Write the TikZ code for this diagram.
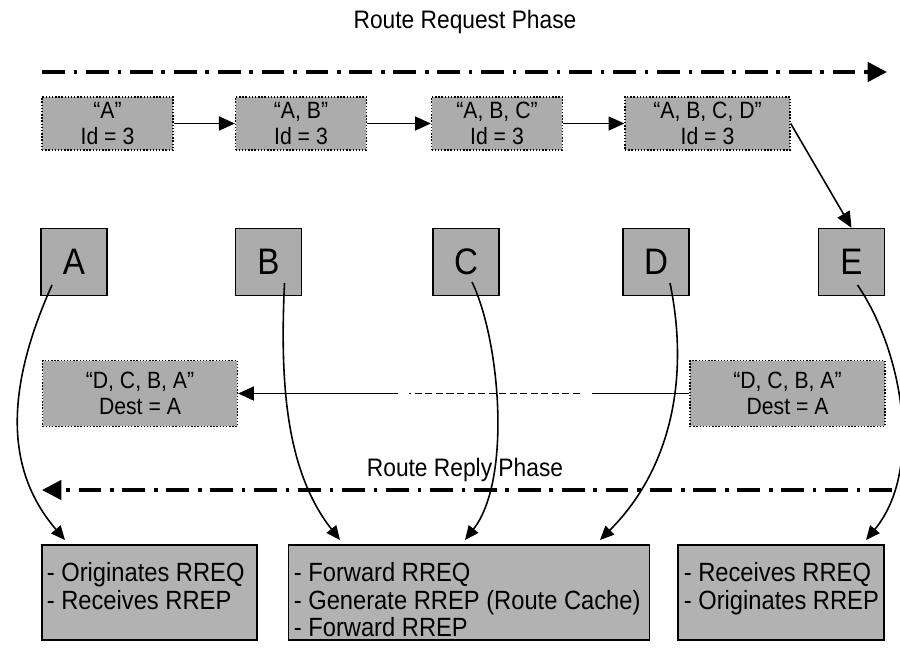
\documentclass[tikz,border=0pt]{standalone}
\usepackage{fontspec}
\setmainfont[FakeStretch=0.9]{Liberation Sans}
\usetikzlibrary{arrows.meta}
\tikzstyle{packet} = [rectangle, draw=black, densely dotted, line width=0.8pt,
minimum width=2.62cm, minimum height=1.06cm, inner sep=2pt,
align=center, fill=gray!65, font=\fontsize{13.4}{14.5}\selectfont]
\tikzstyle{host} = [rectangle, draw=black, line width=0.9pt, fill=gray!65,
minimum width=1.32cm, minimum height=1.34cm, inner sep=0pt,
font=\fontsize{21}{24}\selectfont]
\tikzstyle{role} = [rectangle, draw=black, line width=0.6pt, fill=gray!60,
minimum height=1.9cm, inner sep=0pt]
\tikzstyle{roletext} = [anchor=north west, align=left, inner sep=0pt,
font=\fontsize{15}{15.6}\selectfont]
\tikzstyle{phaselabel} = [font=\fontsize{14.4}{16}\selectfont]
\tikzstyle{phase} = [line width=2pt, dash pattern=on 13pt off 5pt on 2pt off 5pt,
-{Triangle[length=11pt,width=11pt]}]
\tikzstyle{hop} = [line width=0.9pt, -{Triangle[length=8pt,width=7pt]}]
\tikzstyle{arrow} = [line width=0.9pt, -{Triangle[length=9pt,width=8pt]}]

\begin{document}
\begin{tikzpicture}[x=0.02cm, y=-0.02cm]
\useasboundingbox (0,0) rectangle (900,659);

% Nodes
\node[phaselabel] (reqlabel) at (465,22) {Route Request Phase};
\coordinate (reqstart) at (42,72);
\coordinate (reqend) at (887,72);

\node[packet] (pktA) at (107.5,123.5) {“A”\\Id = 3};
\node[packet] (pktB) at (301,123.5) {“A, B”\\Id = 3};
\node[packet] (pktC) at (497,123.5) {“A, B, C”\\Id = 3};
\node[packet, minimum width=3.3cm] (pktD) at (707.5,123.5) {“A, B, C, D”\\Id = 3};

\node[host] (A) at (74,262) {A};
\node[host] (B) at (268.5,262) {B};
\node[host] (C) at (466,262) {C};
\node[host] (D) at (656,262) {D};
\node[host] (E) at (851.5,262) {E};

\node[packet, minimum width=3.9cm, minimum height=1.32cm] (backA) at (140,393.5) {“D, C, B, A”\\Dest = A};
\node[packet, minimum width=3.9cm, minimum height=1.32cm] (backE) at (787.5,393.5) {“D, C, B, A”\\Dest = A};
\coordinate (gapR) at (592,393.5);
\coordinate (gapL) at (580,393.5);
\coordinate (dashL) at (409,393.5);
\coordinate (solidL) at (398,393.5);

\node[phaselabel] (replabel) at (465,470) {Route Reply Phase};
\coordinate (repstart) at (892,490);
\coordinate (repend) at (42,490);

\coordinate (tipA) at (65,540);
\coordinate (tipB) at (340,540);
\coordinate (tipC) at (465,540);
\coordinate (tipD) at (600,540);
\coordinate (tipE) at (866,540);

\node[role, minimum width=4.3cm] (origbox) at (149.5,592.5) {};
\node[roletext] (origtext) at ([shift={(5,18)}]origbox.north west) {- Originates RREQ\\- Receives RREP};
\node[role, minimum width=7.24cm] (relaybox) at (469,592.5) {};
\node[roletext] (relaytext) at ([shift={(6,18)}]relaybox.north west) {- Forward RREQ\\- Generate RREP (Route Cache)\\- Forward RREP};
\node[role, minimum width=4.12cm] (destbox) at (781,592.5) {};
\node[roletext] (desttext) at ([shift={(6,18)}]destbox.north west) {- Receives RREQ\\- Originates RREP};

% Arrows
\draw[phase] (reqstart) -- (reqend);
\draw[arrow] (pktA.east) -- (pktB.west);
\draw[arrow] (pktB.east) -- (pktC.west);
\draw[arrow] (pktC.east) -- (pktD.west);
\draw[arrow] (pktD.east) -- (E.north);

\draw[line width=0.9pt] (backE.west) -- (gapR);
\draw[line width=0.9pt, dash pattern=on 4pt off 2pt] (gapL) -- (dashL);
\draw[arrow] (solidL) -- (backA.east);

\draw[phase] (repstart) -- (repend);

\draw[hop] ([shift={(-22,23)}]A.center) .. controls (5,390) and (5,470) .. (tipA);
\draw[hop] ([shift={(16,21)}]B.center) .. controls (280,380) and (285,470) .. (tipB);
\draw[hop] ([shift={(6,20)}]C.center) .. controls (500,340) and (512,480) .. (tipC);
\draw[hop] ([shift={(14,21)}]D.center) .. controls (690,380) and (670,470) .. (tipD);
\draw[hop] ([shift={(6,23)}]E.center) .. controls (902,350) and (924,470) .. (tipE);

\end{tikzpicture}
\end{document}
